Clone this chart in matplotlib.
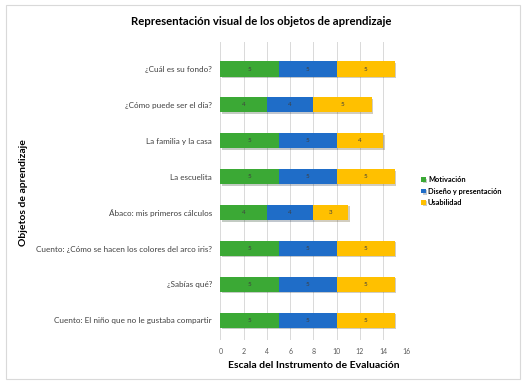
import matplotlib.pyplot as plt
from matplotlib.patches import Rectangle
import matplotlib.patheffects as pe
import numpy as np

plt.rcParams['font.family'] = ['Lato', 'DejaVu Sans']

objetos = [
    '¿Cuál es su fondo?',
    '¿Cómo puede ser el día?',
    'La familia y la casa',
    'La escuelita',
    'Ábaco: mis primeros cálculos',
    'Cuento: ¿Cómo se hacen los colores del arco iris?',
    '¿Sabías qué?',
    'Cuento: El niño que no le gustaba compartir',
]
motivacion = [5, 4, 5, 5, 4, 5, 5, 5]
diseno = [5, 4, 5, 5, 4, 5, 5, 5]
usabilidad = [5, 5, 4, 5, 3, 5, 5, 5]

series = [('Motivación', motivacion, '#3BA935'),
          ('Diseño y presentación', diseno, '#1F6DC8'),
          ('Usabilidad', usabilidad, '#FFC000')]

fig = plt.figure(figsize=(5.23, 3.86), dpi=100)
fig.patches.append(Rectangle((0.012, 0.018), 0.982, 0.97, transform=fig.transFigure,
                             fill=False, edgecolor='#D9D9D9', linewidth=0.8))
ax = fig.add_axes([0.4215, 0.119, 0.3555, 0.772])

y = np.arange(len(objetos))
left = np.zeros(len(objetos))
shadow = [pe.SimplePatchShadow(offset=(1, -1), alpha=0.25), pe.Normal()]
for name, vals, color in series:
    vals = np.array(vals)
    bars = ax.barh(y, vals, left=left, height=0.42, color=color, label=name, zorder=3)
    for b in bars:
        b.set_path_effects(shadow)
    for yi, l, v in zip(y, left, vals):
        ax.text(l + v / 2, yi, str(v), ha='center', va='center', fontsize=4.5, color='#404040', zorder=4)
    left += vals

ax.set_xlim(0, 16)
ax.set_ylim(len(objetos) - 0.45, -0.75)
ax.set_xticks(range(0, 17, 2))
ax.set_yticks(y)
ax.set_yticklabels(objetos, fontsize=5.9, color='#404040')
ax.tick_params(axis='x', labelsize=5, colors='#595959', length=0, pad=6)
ax.tick_params(axis='y', length=0, pad=6)
ax.grid(axis='x', color='#D9D9D9', linewidth=0.7, zorder=0)
for s in ax.spines.values():
    s.set_visible(False)

ax.set_xlabel('Escala del Instrumento de Evaluación', fontsize=7.5, fontweight='bold', labelpad=4)
fig.text(0.044, 0.5, 'Objetos de aprendizaje', rotation=90, fontsize=7.5, fontweight='bold',
         ha='center', va='center')
fig.text(0.5, 0.945, 'Representación visual de los objetos de aprendizaje', fontsize=8.2,
         fontweight='bold', ha='center', va='center')

ax.legend(loc='center left', bbox_to_anchor=(1.045, 0.5), frameon=False,
          prop={'size': 5.3, 'weight': 'bold'},
          handlelength=0.6, handleheight=0.6, handletextpad=0.3, labelspacing=0.6)

fig.savefig('out.png', dpi=100)
